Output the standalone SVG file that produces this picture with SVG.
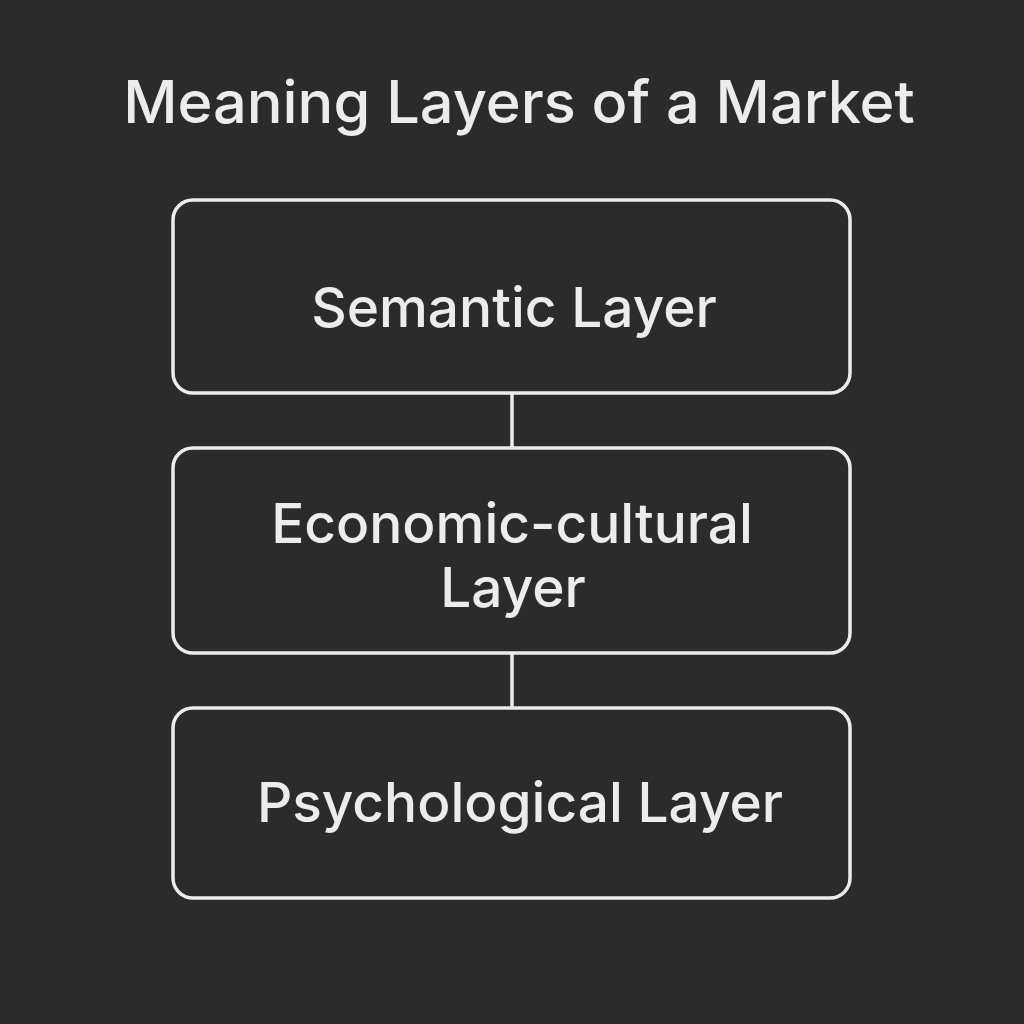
<svg xmlns="http://www.w3.org/2000/svg" width="1024" height="1024" viewBox="0 0 1024 1024">
<style>
.box{fill:#2b2b2b;stroke:#ececec;stroke-width:3.5}
.lbl{fill:#ececec;font-family:Inter,"Liberation Sans",sans-serif;font-weight:500;font-size:55px;text-anchor:middle}
.title{fill:#ececec;font-family:Inter,"Liberation Sans",sans-serif;font-weight:500;font-size:59.5px;text-anchor:middle}
.conn{stroke:#ececec;stroke-width:3.5;fill:none}
</style>
<rect width="1024" height="1024" fill="#2b2b2b"/>
<text class="title" x="519" y="123">Meaning Layers of a Market</text>
<g id="connectors">
<line class="conn" x1="512" y1="393" x2="512" y2="448"/>
<line class="conn" x1="512" y1="653" x2="512" y2="708"/>
</g>
<g id="semantic">
<rect class="box" x="173" y="200" width="677" height="193" rx="20"/>
<text class="lbl" x="514" y="327">Semantic Layer</text>
</g>
<g id="economic">
<rect class="box" x="173" y="448" width="677" height="205" rx="20"/>
<text class="lbl" x="512" y="543">Economic-cultural</text>
<text class="lbl" x="513" y="607">Layer</text>
</g>
<g id="psychological">
<rect class="box" x="173" y="708" width="677" height="190" rx="20"/>
<text class="lbl" x="520" y="822">Psychological Layer</text>
</g>
</svg>
